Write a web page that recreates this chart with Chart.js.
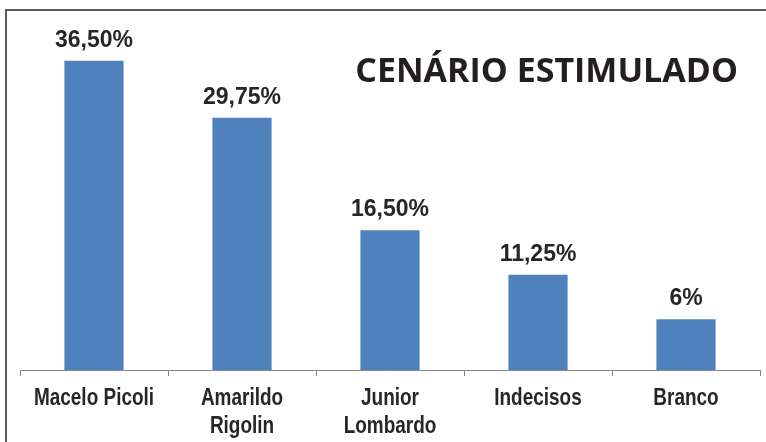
<!DOCTYPE html>
<html>
<head>
<meta charset="utf-8">
<script src="https://cdn.jsdelivr.net/npm/chart.js@4/dist/chart.umd.min.js"></script>
<style>
  html, body { margin: 0; padding: 0; background: #fff; }
  #wrap { width: 766px; height: 442px; }
</style>
</head>
<body>
<div id="wrap"><canvas id="chart" width="766" height="442"></canvas></div>
<script>
const categories = [
  "Macelo Picoli",
  ["Amarildo", "Rigolin"],
  ["Junior", "Lombardo"],
  "Indecisos",
  "Branco"
];
const values = [36.5, 29.75, 16.5, 11.25, 6];
const valueLabels = ["36,50%", "29,75%", "16,50%", "11,25%", "6%"];
const chartTitle = "CENÁRIO ESTIMULADO";

const BAR_COLOR = "#4F81BD";
const TEXT_COLOR = "#262626";

// frame lines (top + left) like the cropped original
const framePlugin = {
  id: "frame",
  beforeDraw(chart) {
    const ctx = chart.ctx;
    ctx.save();
    ctx.strokeStyle = "#5a5a5a";
    ctx.lineWidth = 2;
    ctx.beginPath();
    ctx.moveTo(6, chart.height);
    ctx.lineTo(6, 10);
    ctx.lineTo(chart.width, 10);
    ctx.stroke();
    ctx.restore();
  }
};

// value labels above the bars, title, and condensed category labels
const labelPlugin = {
  id: "valueLabels",
  afterDraw(chart) {
    const ctx = chart.ctx;
    const meta = chart.getDatasetMeta(0);
    ctx.save();
    ctx.fillStyle = TEXT_COLOR;
    ctx.font = "bold 23px 'Liberation Sans', Arial, sans-serif";
    ctx.textAlign = "center";
    ctx.textBaseline = "alphabetic";
    meta.data.forEach((bar, i) => {
      ctx.fillText(valueLabels[i], bar.x, bar.y - 14);
    });

    // category labels (narrow bold, no narrow font installed -> squeeze)
    const xs = chart.scales.x;
    ctx.font = "bold 24px 'Liberation Sans', Arial, sans-serif";
    categories.forEach((cat, i) => {
      const lines = Array.isArray(cat) ? cat : [cat];
      const x = xs.getPixelForTick(i);
      lines.forEach((line, j) => {
        ctx.save();
        ctx.translate(x, xs.top + 35 + j * 28);
        ctx.scale(0.79, 1);
        ctx.fillText(line, 0, 0);
        ctx.restore();
      });
    });

    ctx.fillStyle = "#231f20";
    ctx.font = "bold 34px 'Open Sans', sans-serif";
    ctx.textAlign = "right";
    ctx.fillText(chartTitle, chart.chartArea.right - 22, 82);
    ctx.restore();
  }
};

new Chart(document.getElementById("chart"), {
  type: "bar",
  data: {
    labels: categories,
    datasets: [
      {
        data: values,
        backgroundColor: BAR_COLOR,
        barPercentage: 0.8,
        categoryPercentage: 0.5,
      },
    ],
  },
  options: {
    responsive: false,
    animation: false,
    layout: { padding: { left: 20, right: 6, top: 31, bottom: 0 } },
    plugins: {
      legend: { display: false },
      tooltip: { enabled: false },
    },
    scales: {
      y: { display: false, min: 0, max: 40 },
      x: {
        afterFit(scale) { scale.height = 72; },
        border: { color: "#868686", width: 1 },
        grid: {
          offset: true,
          drawOnChartArea: false,
          drawTicks: true,
          tickLength: 6,
          color: "#868686",
        },
        ticks: { display: false },
      },
    },
  },
  plugins: [framePlugin, labelPlugin],
});
</script>
</body>
</html>
